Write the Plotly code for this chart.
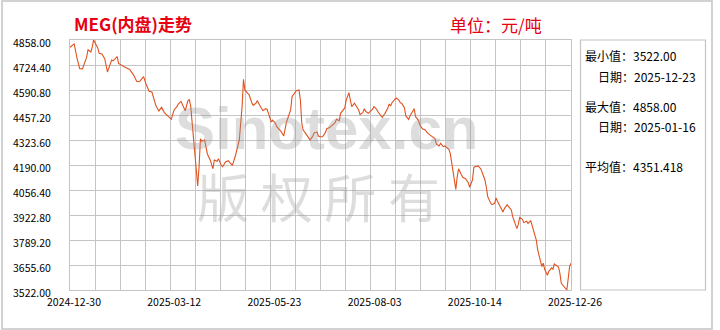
import plotly.graph_objects as go
import pandas as pd

# ---------------- data ----------------
dates = [
 "2024-12-30","2025-01-02","2025-01-04","2025-01-06","2025-01-08","2025-01-10","2025-01-11","2025-01-12",
 "2025-01-14","2025-01-15","2025-01-16","2025-01-19","2025-01-20","2025-01-22","2025-01-23","2025-01-24",
 "2025-01-26","2025-01-27","2025-01-29","2025-01-30","2025-02-02","2025-02-03","2025-02-05","2025-02-07",
 "2025-02-11","2025-02-14","2025-02-16","2025-02-18","2025-02-19","2025-02-21","2025-02-23","2025-02-25",
 "2025-02-27","2025-03-01","2025-03-02","2025-03-04","2025-03-06","2025-03-08","2025-03-10","2025-03-11",
 "2025-03-13","2025-03-15","2025-03-17","2025-03-18","2025-03-20","2025-03-22","2025-03-23","2025-03-25",
 "2025-03-26","2025-03-27","2025-03-28","2025-03-30","2025-03-31","2025-04-01","2025-04-02","2025-04-03",
 "2025-04-04","2025-04-06","2025-04-07","2025-04-08","2025-04-10","2025-04-12","2025-04-13","2025-04-15",
 "2025-04-16","2025-04-18","2025-04-19","2025-04-21","2025-04-23","2025-04-25","2025-04-26","2025-04-28",
 "2025-04-29","2025-05-01","2025-05-02","2025-05-03","2025-05-04","2025-05-05","2025-05-07","2025-05-08",
 "2025-05-10","2025-05-11","2025-05-13","2025-05-14","2025-05-16","2025-05-18","2025-05-20","2025-05-21",
 "2025-05-22","2025-05-24","2025-05-25","2025-05-27","2025-05-28","2025-05-30","2025-05-31","2025-06-02",
 "2025-06-03","2025-06-04","2025-06-05","2025-06-07","2025-06-08","2025-06-10","2025-06-11","2025-06-13",
 "2025-06-14","2025-06-15","2025-06-16","2025-06-18","2025-06-20","2025-06-21","2025-06-23","2025-06-24",
 "2025-06-26","2025-06-27","2025-06-28","2025-06-30","2025-07-02","2025-07-03","2025-07-05","2025-07-07",
 "2025-07-09","2025-07-10","2025-07-12","2025-07-13","2025-07-15","2025-07-16","2025-07-17","2025-07-19",
 "2025-07-20","2025-07-21","2025-07-23","2025-07-24","2025-07-26","2025-07-27","2025-07-29","2025-07-30",
 "2025-07-31","2025-08-02","2025-08-03","2025-08-05","2025-08-06","2025-08-08","2025-08-09","2025-08-11",
 "2025-08-12","2025-08-13","2025-08-14","2025-08-16","2025-08-17","2025-08-18","2025-08-19","2025-08-21",
 "2025-08-22","2025-08-24","2025-08-25","2025-08-26","2025-08-28","2025-08-29","2025-08-31","2025-09-01",
 "2025-09-03","2025-09-04","2025-09-05","2025-09-07","2025-09-08","2025-09-10","2025-09-12","2025-09-13",
 "2025-09-15","2025-09-17","2025-09-19","2025-09-20","2025-09-22","2025-09-23","2025-09-25","2025-09-26",
 "2025-09-27","2025-09-29","2025-09-30","2025-10-01","2025-10-02","2025-10-04","2025-10-05","2025-10-06",
 "2025-10-08","2025-10-09","2025-10-11","2025-10-13","2025-10-14","2025-10-16","2025-10-17","2025-10-19",
 "2025-10-20","2025-10-22","2025-10-23","2025-10-25","2025-10-26","2025-10-27","2025-10-29","2025-10-30",
 "2025-11-01","2025-11-02","2025-11-03","2025-11-05","2025-11-06","2025-11-07","2025-11-08","2025-11-10",
 "2025-11-11","2025-11-13","2025-11-14","2025-11-16","2025-11-17","2025-11-18","2025-11-19","2025-11-21",
 "2025-11-22","2025-11-24","2025-11-25","2025-11-27","2025-11-28","2025-11-29","2025-12-01","2025-12-02",
 "2025-12-04","2025-12-05","2025-12-06","2025-12-07","2025-12-09","2025-12-10","2025-12-12","2025-12-13",
 "2025-12-14","2025-12-16","2025-12-17","2025-12-18","2025-12-19","2025-12-23","2025-12-24","2025-12-25",
 "2025-12-26",
]
prices = [
 4819,4837,4762,4705,4703,4740,4766,4806,
 4794,4819,4858,4815,4787,4783,4766,4758,
 4687,4712,4751,4747,4769,4733,4723,4715,
 4701,4669,4637,4635,4644,4662,4619,4584,
 4580,4534,4505,4479,4498,4470,4452,4448,
 4434,4484,4502,4516,4530,4502,4480,4534,
 4541,4502,4413,4234,4127,4078,4181,4330,
 4317,4324,4285,4249,4217,4170,4217,4210,
 4224,4188,4181,4206,4213,4199,4188,4234,
 4270,4324,4413,4502,4648,4591,4573,4566,
 4523,4509,4520,4534,4505,4480,4491,4488,
 4466,4420,4430,4413,4395,4377,4370,4345,
 4395,4420,4441,4484,4555,4580,4587,4591,
 4537,4413,4377,4356,4338,4324,4345,4363,
 4366,4345,4341,4341,4363,4384,4390,4402,
 4416,4434,4427,4466,4488,4495,4537,4576,
 4537,4502,4520,4505,4484,4459,4470,4491,
 4477,4466,4473,4488,4502,4488,4473,4456,
 4445,4456,4466,4495,4516,4505,4523,4541,
 4548,4537,4523,4520,4495,4452,4434,4452,
 4477,4491,4448,4430,4405,4384,4377,4366,
 4352,4341,4331,4302,4292,4306,4288,4292,
 4285,4274,4252,4202,4163,4060,4127,4170,
 4138,4124,4117,4095,4071,4110,4178,4185,
 4185,4170,4146,4110,4071,4021,3988,3978,
 3985,4014,3996,3967,3950,3939,3957,3978,
 3967,3950,3914,3878,3850,3871,3910,3900,
 3882,3889,3878,3892,3868,3836,3789,3736,
 3682,3647,3665,3633,3601,3622,3640,3633,
 3661,3647,3645,3611,3558,3522,3593,3647,
 3665,
]

x_start, x_end = "2024-12-30", "2025-12-26"
x_labels = ["2024-12-30", "2025-03-12", "2025-05-23", "2025-08-03", "2025-10-14", "2025-12-26"]
y_min, y_max = 3522.00, 4858.00
y_ticks = [3522.00, 3655.60, 3789.20, 3922.80, 4056.40, 4190.00, 4323.60, 4457.20, 4590.80, 4724.40, 4858.00]
y_ticktext = [f"{v:.2f}" for v in y_ticks]

title_text = "MEG(内盘)走势"
unit_text = "单位：元/吨"
stats_lines = [
    ("最小值：3522.00", 0),
    ("日期：2025-12-23", 1),
    ("最大值：4858.00", 0),
    ("日期：2025-01-16", 1),
    ("平均值：4351.418", 0),
]

# vertical grid: 20 equal divisions of the date range, label every 4th
grid_dates = pd.date_range(x_start, x_end, periods=21)
x_tickvals = [d.strftime("%Y-%m-%d %H:%M:%S") for d in grid_dates]
x_ticktext = [x_labels[i // 4] if i % 4 == 0 else "" for i in range(21)]

# ---------------- layout helpers (pixel -> paper) ----------------
W, H = 720, 330
L, R, T, B = 70, 571, 40, 290
def px(x):
    return (x - L) / (R - L)
def py(y):
    return (B - y) / (B - T)

FONT = "Noto Sans CJK SC, SimSun, sans-serif"
GRID = "#c4c4c4"
LINE = "#e0521f"
WM = "rgba(150,150,150,0.32)"

fig = go.Figure()
fig.add_trace(go.Scatter(
    x=dates, y=prices, mode="lines",
    line=dict(color=LINE, width=1.1),
    hoverinfo="x+y", showlegend=False,
))

fig.update_layout(
    width=W, height=H, autosize=False,
    margin=dict(l=L, r=W - R, t=T, b=H - B, pad=0),
    paper_bgcolor="white", plot_bgcolor="white",
    font=dict(family=FONT, size=11, color="#000000"),
    showlegend=False,
    xaxis=dict(
        type="date", range=[x_start, x_end],
        tickmode="array", tickvals=x_tickvals, ticktext=x_ticktext,
        showgrid=True, gridcolor=GRID, gridwidth=1,
        showline=True, linecolor=GRID, linewidth=1, mirror=True,
        ticks="", zeroline=False,
        tickfont=dict(family=FONT, size=10.5, color="#000"),
        ticklabelshift=4, tickangle=0, ticklabelstandoff=2,
        fixedrange=True,
    ),
    yaxis=dict(
        range=[y_min, y_max],
        tickmode="array", tickvals=y_ticks, ticktext=y_ticktext,
        showgrid=True, gridcolor=GRID, gridwidth=1,
        showline=True, linecolor=GRID, linewidth=1, mirror=True,
        ticks="", zeroline=False,
        tickfont=dict(family=FONT, size=10.5, color="#000"),
        ticklabelstandoff=16, ticklabelshift=3,
        fixedrange=True,
    ),
)

shapes = [
    dict(type="rect", xref="paper", yref="paper",
         x0=px(2), x1=px(712), y0=py(329), y1=py(1),
         line=dict(color="#c4c4c4", width=1.5), layer="below"),
    dict(type="rect", xref="paper", yref="paper",
         x0=px(580.5), x1=px(705.5), y0=py(290), y1=py(40),
         line=dict(color="#c4c4c4", width=1.2), layer="below"),
]
fig.update_layout(shapes=shapes)

ann = []
ann.append(dict(text="Sinotex.cn", xref="paper", yref="paper",
                x=px(326), y=py(128), xanchor="center", yanchor="middle", showarrow=False,
                font=dict(family="Liberation Sans, Arial", size=60, color=WM, weight="bold")))
ann.append(dict(text="版 权 所 有", xref="paper", yref="paper",
                x=px(318), y=py(195), xanchor="center", yanchor="middle", showarrow=False,
                font=dict(family="Noto Sans CJK SC", size=52, color=WM)))
ann.append(dict(text=f"<b>{title_text}</b>", xref="paper", yref="paper",
                x=px(72), y=py(24), xanchor="left", yanchor="middle", showarrow=False,
                font=dict(family=FONT, size=17, color="#e60012")))
ann.append(dict(text=unit_text, xref="paper", yref="paper",
                x=px(448), y=py(25), xanchor="left", yanchor="middle", showarrow=False,
                font=dict(family=FONT, size=17, color="#e60012")))
ys = [56, 76, 106, 126, 166]
for (txt, indent), yy in zip(stats_lines, ys):
    ann.append(dict(text=txt, xref="paper", yref="paper",
                    x=px(583 if indent == 0 else 596), y=py(yy),
                    xanchor="left", yanchor="middle", showarrow=False,
                    font=dict(family=FONT, size=12, color="#000")))
fig.update_layout(annotations=ann)

fig.write_html("out.html")
